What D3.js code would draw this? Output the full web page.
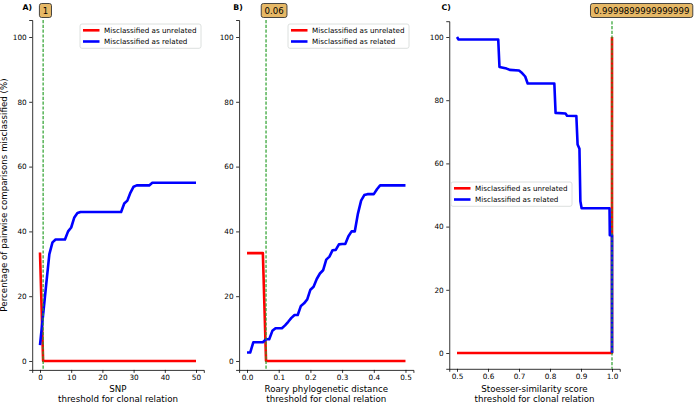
<!DOCTYPE html>
<html><head><meta charset="utf-8">
<script src="https://cdn.jsdelivr.net/npm/d3@7"></script>
<style>
html,body{margin:0;padding:0;background:#fff;}
svg text{font-family:"DejaVu Sans",sans-serif;fill:#000;}
</style></head>
<body><svg id="chart" width="696" height="403"></svg>
<script>
// ---------- DATA ----------
const snpThresholds = [0,1,2,3,4,5,6,7,8,9,10,11,12,13,14,15,16,17,18,19,20,21,22,23,24,25,26,27,28,29,30,31,32,33,34,35,36,37,38,39,40,41,42,43,44,45,46,47,48,49,50];
const snpUnrelated = [33.5,0,0,0,0,0,0,0,0,0,0,0,0,0,0,0,0,0,0,0,0,0,0,0,0,0,0,0,0,0,0,0,0,0,0,0,0,0,0,0,0,0,0,0,0,0,0,0,0,0,0];
const snpRelated = [4.9,14.3,23.7,33.0,36.6,37.5,37.5,37.5,37.5,40.0,41.2,44.3,45.7,46.0,46.0,46.0,46.0,46.0,46.0,46.0,46.0,46.0,46.0,46.0,46.0,46.0,46.0,48.6,49.5,52.0,53.8,54.2,54.2,54.2,54.2,54.2,55.0,55.0,55.0,55.0,55.0,55.0,55.0,55.0,55.0,55.0,55.0,55.0,55.0,55.0,55.0];
const snpTicks = [0,10,20,30,40,50];

const roaryThresholds = [0.00,0.01,0.02,0.03,0.04,0.05,0.06,0.07,0.08,0.09,0.10,0.11,0.12,0.13,0.14,0.15,0.16,0.17,0.18,0.19,0.20,0.21,0.22,0.23,0.24,0.25,0.26,0.27,0.28,0.29,0.30,0.31,0.32,0.33,0.34,0.35,0.36,0.37,0.38,0.39,0.40,0.41,0.42,0.43,0.44,0.45,0.46,0.47,0.48,0.49,0.50];
const roaryUnrelated = [33.3,33.3,33.3,33.3,33.3,33.3,0,0,0,0,0,0,0,0,0,0,0,0,0,0,0,0,0,0,0,0,0,0,0,0,0,0,0,0,0,0,0,0,0,0,0,0,0,0,0,0,0,0,0,0,0];
const roaryRelated = [2.6,2.6,5.8,5.8,5.8,5.8,6.7,6.7,9.3,10.1,10.1,10.1,11.0,12.1,13.3,14.2,14.2,17.0,17.8,19.0,22.0,22.9,25.3,27.0,28.0,31.3,32.2,34.2,34.3,36.0,36.1,36.1,38.5,40.0,40.0,45.5,49.5,51.2,51.5,51.5,51.5,53.0,54.2,54.2,54.2,54.2,54.2,54.2,54.2,54.2,54.2];
const roaryTicks = [0.0,0.1,0.2,0.3,0.4,0.5];

const scoreThresholds = [0.50,0.505,0.633,0.637,0.66,0.67,0.70,0.71,0.72,0.728,0.814,0.818,0.85,0.855,0.885,0.889,0.895,0.898,0.902,0.992,0.993,0.99999,1.0];
const scoreUnrelated = [0,0,0,0,0,0,0,0,0,0,0,0,0,0,0,0,0,0,0,0,0,0,100];
const scoreRelated = [100,99.2,99.2,90.5,90.0,89.6,89.4,88.6,87.5,85.3,85.3,76.0,75.8,75.1,75.0,66.0,64.6,48.0,45.8,45.8,37.3,37.3,0];
const scoreTicks = [0.5,0.6,0.7,0.8,0.9,1.0];

const yTicks = [0,20,40,60,80,100];
const panelLetters = ["A)","B)","C)"];
const xLabels = [["SNP","threshold for clonal relation"],["Roary phylogenetic distance","threshold for clonal relation"],["Stoesser-similarity score","threshold for clonal relation"]];
const optimalThresholds = [1, 0.06, 0.9999899999999999];
const optimalLabels = ["1","0.06","0.9999899999999999"];
const seriesNames = ["Misclassified as unrelated","Misclassified as related"];
const seriesColors = ["#ff0000","#0000ff"];
const yLabel = "Percentage of pairwise comparisons misclassified (%)";

// ---------- LAYOUT ----------
const svg = d3.select("#chart");
const panels = [
  {x: snpThresholds, s: [snpUnrelated, snpRelated], ticks: snpTicks, xd: [-2.5,52.5], xr: [32.2,203.8], yd: [-2.75,105.25], yr: [369.9,20], fmt: d3.format("d"), letterX: 22.5, badgeShift: -3.7, legend: {x:80, y:24}},
  {x: roaryThresholds, s: [roaryUnrelated, roaryRelated], ticks: roaryTicks, xd: [-0.025,0.525], xr: [239.1,413.4], yd: [-2.75,105.25], yr: [369.9,20], fmt: d3.format(".1f"), letterX: 233.3, badgeShift: -4.8, legend: {x:288, y:24}},
  {x: scoreThresholds, s: [scoreUnrelated, scoreRelated], ticks: scoreTicks, xd: [0.475,1.025], xr: [449.25,619.75], yd: [-5,105], yr: [368.8,21.2], fmt: d3.format(".1f"), letterX: 441.5, badgeShift: -21.5, legend: {x:451, y:182}}
];

panels.forEach((p, i) => {
  const g = svg.append("g");
  const x = d3.scaleLinear().domain(p.xd).range(p.xr);
  const y = d3.scaleLinear().domain(p.yd).range(p.yr);

  const xa = g.append("g").attr("transform", `translate(0,${p.yr[0]})`)
    .call(d3.axisBottom(x).tickValues(p.ticks).tickFormat(p.fmt).tickSizeOuter(0).tickSize(3).tickPadding(2));
  const ya = g.append("g").attr("transform", `translate(${p.xr[0]},0)`)
    .call(d3.axisLeft(y).tickValues(yTicks).tickFormat(d3.format("d")).tickSizeOuter(0).tickSize(3).tickPadding(2.5));
  [xa, ya].forEach(a => {
    a.attr("font-family", null).attr("font-size", null);
    a.select(".domain").attr("stroke", "#000").attr("stroke-width", 0.8);
    a.selectAll(".tick line").attr("stroke", "#000").attr("stroke-width", 0.8);
    a.selectAll(".tick text").attr("font-size", 7.3).attr("fill", "#000");
  });

  const line = d3.line().x((d, k) => x(p.x[k])).y(d => y(d));
  p.s.forEach((vals, k) => {
    g.append("path").datum(vals).attr("d", line)
      .attr("fill", "none").attr("stroke", seriesColors[k]).attr("stroke-width", 2.6)
      .attr("stroke-linejoin", "round").attr("stroke-linecap", "butt");
  });

  const tx = x(optimalThresholds[i]);
  g.append("line").attr("x1", tx).attr("x2", tx).attr("y1", p.yr[1]).attr("y2", p.yr[0])
    .attr("stroke", "#2ca02c").attr("stroke-width", 1.2).attr("stroke-dasharray", "3.2,1.6");

  const bg = g.append("g");
  const br = bg.append("rect");
  const bt = bg.append("text").attr("x", tx + p.badgeShift + 3.3).attr("y", 13.8)
    .attr("font-size", 8.6).text(optimalLabels[i]);
  const bb = bt.node().getBBox();
  br.attr("x", bb.x - 3.3).attr("y", 3.5).attr("width", bb.width + 6.6).attr("height", 14)
    .attr("rx", 2.2).attr("fill", "#e6b866").attr("stroke", "#333").attr("stroke-width", 0.9);

  g.append("text").attr("x", p.letterX).attr("y", 9.5).attr("font-size", 7.8).attr("font-weight", "bold").text(panelLetters[i]);

  const cx = (p.xr[0] + p.xr[1]) / 2;
  g.append("text").attr("x", cx).attr("y", 391.5).attr("text-anchor", "middle").attr("font-size", 8.7).text(xLabels[i][0]);
  g.append("text").attr("x", cx).attr("y", 401.5).attr("text-anchor", "middle").attr("font-size", 8.7).text(xLabels[i][1]);

  const lg = g.append("g").attr("transform", `translate(${p.legend.x},${p.legend.y})`);
  lg.append("rect").attr("x", 0).attr("y", 0).attr("width", 121).attr("height", 24.3).attr("rx", 2)
    .attr("fill", "#fff").attr("fill-opacity", 0.85).attr("stroke", "#d3d8d6").attr("stroke-width", 0.8);
  seriesNames.forEach((n, k) => {
    const ly = 6.3 + k * 11.2;
    lg.append("line").attr("x1", 3).attr("x2", 19.5).attr("y1", ly).attr("y2", ly)
      .attr("stroke", seriesColors[k]).attr("stroke-width", 2.6);
    lg.append("text").attr("x", 24).attr("y", ly + 2.7).attr("font-size", 7.2).text(n);
  });
});

svg.append("text").attr("transform", "translate(7.3,195) rotate(-90)").attr("text-anchor", "middle")
  .attr("font-size", 8.7).text(yLabel);
</script>
</body></html>
